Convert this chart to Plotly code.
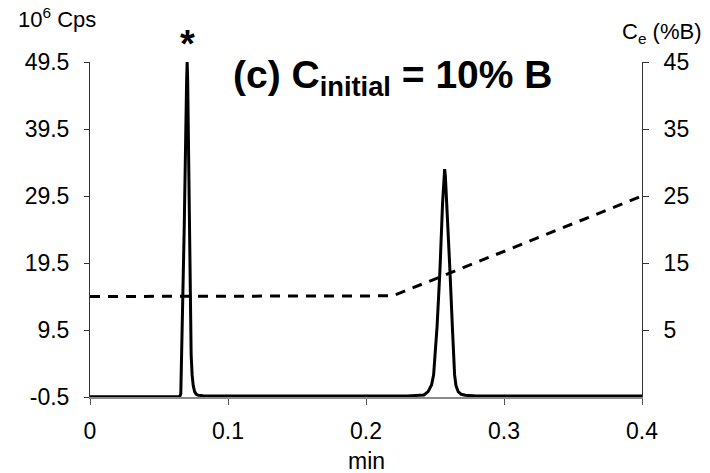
import plotly.graph_objects as go

# Chromatogram (left axis, 10^6 Cps)
time_min = [0.0000, 0.0650, 0.0658, 0.0664, 0.0683, 0.0700, 0.0704, 0.0708, 0.0719, 0.0728,
            0.0733, 0.0740, 0.0748, 0.0758, 0.0770, 0.0785, 0.0820, 0.1000, 0.2300, 0.2420,
            0.2450, 0.2475, 0.2490, 0.2515, 0.2536, 0.2555, 0.2565, 0.2570, 0.2575, 0.2585,
            0.2608, 0.2628, 0.2642, 0.2652, 0.2668, 0.2690, 0.2720, 0.2800, 0.4000]
signal = [-0.45, -0.45, 0.0, 5.0, 25.0, 46.5, 49.5, 46.5, 27.0, 12.0,
          5.8, 2.8, 1.2, 0.3, -0.1, -0.25, -0.3, -0.35, -0.35, -0.2,
          0.3, 1.3, 2.8, 10.0, 18.5, 28.5, 32.5, 33.5, 32.5, 28.5,
          18.5, 9.0, 2.8, 1.2, 0.3, -0.1, -0.25, -0.35, -0.35]

# Eluent composition (right axis, %B)
grad_time = [0.0, 0.214, 0.219, 0.223, 0.228, 0.4]
grad_b = [10.0, 10.0, 10.1, 10.4, 10.8, 25.0]

left_ticks = [-0.5, 9.5, 19.5, 29.5, 39.5, 49.5]
right_ticks = [5, 15, 25, 35, 45]
x_ticks = [0, 0.1, 0.2, 0.3, 0.4]

FONT = "Arial, Liberation Sans, sans-serif"
FS = 23

fig = go.Figure()
fig.add_trace(go.Scatter(x=time_min, y=signal, mode="lines",
                         line=dict(color="black", width=3), yaxis="y", showlegend=False))
fig.add_trace(go.Scatter(x=grad_time, y=grad_b, mode="lines",
                         line=dict(color="black", width=3, dash="10px,8px"), yaxis="y2",
                         showlegend=False))

fig.update_layout(
    width=710, height=473,
    margin=dict(l=90, r=68, t=62, b=76),
    paper_bgcolor="white", plot_bgcolor="white",
    font=dict(family=FONT, size=FS, color="black"),
    xaxis=dict(range=[0, 0.4], tickvals=x_ticks, ticktext=["0", "0.1", "0.2", "0.3", "0.4"],
               showgrid=False, zeroline=False, showline=True, linecolor="#8a8a8a", linewidth=2,
               ticks="outside", ticklen=6, tickcolor="#555555", tickwidth=1,
               ticklabelstandoff=6, tickfont=dict(size=FS)),
    yaxis=dict(range=[-0.5, 49.5], tickvals=left_ticks, ticktext=[str(v) for v in left_ticks],
               showgrid=False, zeroline=False, showline=True, linecolor="#333333", linewidth=1,
               ticks="outside", ticklen=5, tickcolor="#333333", ticklabelstandoff=10,
               tickfont=dict(size=FS)),
    yaxis2=dict(range=[-5, 45], tickvals=right_ticks, overlaying="y", side="right",
                showgrid=False, zeroline=False, showline=True, linecolor="#333333", linewidth=1,
                ticks="outside", ticklen=6, tickcolor="#333333", ticklabelstandoff=10,
                tickfont=dict(size=FS)),
    annotations=[
        dict(text="10<sup>6</sup> Cps", xref="paper", yref="paper", x=-0.060, y=1.131,
             showarrow=False, font=dict(size=22), xanchor="center", yanchor="middle"),
        dict(text="C<sub>e</sub> (%B)", xref="paper", yref="paper", x=1.036, y=1.087,
             showarrow=False, font=dict(size=22), xanchor="center", yanchor="middle"),
        dict(text="min", xref="paper", yref="paper", x=0.5, y=-0.192,
             showarrow=False, font=dict(size=FS), xanchor="center", yanchor="middle"),
        dict(text="<b>(c) C<sub>initial</sub> = 10% B</b>", xref="paper", yref="paper",
             x=0.548, y=0.955, showarrow=False, font=dict(size=39), xanchor="center",
             yanchor="middle"),
        dict(text="<b>*</b>", xref="x", yref="paper", x=0.0704, y=1.055, showarrow=False,
             font=dict(size=38), xanchor="center", yanchor="middle"),
    ],
)

fig.write_html("out.html")
